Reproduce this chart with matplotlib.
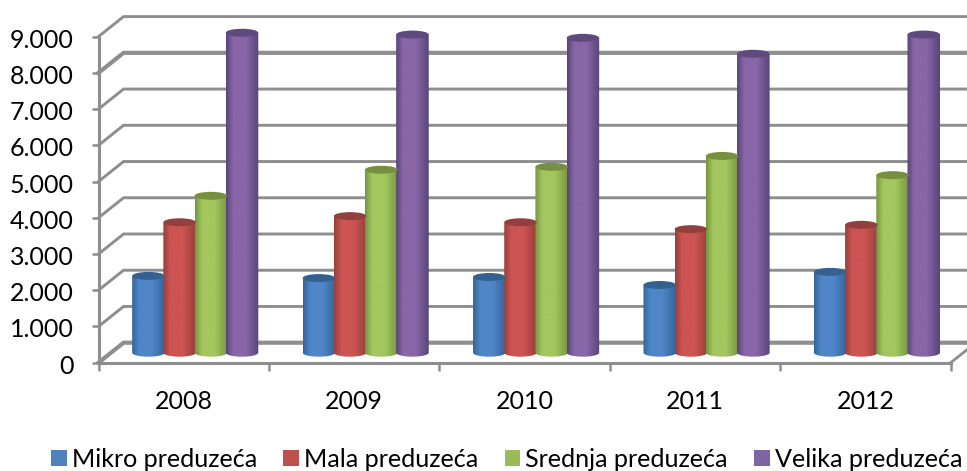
import numpy as np
import matplotlib
matplotlib.use("Agg")
import matplotlib.pyplot as plt
import matplotlib.colors as mcolors
from matplotlib.patches import Ellipse, Patch, Polygon
from matplotlib.transforms import ScaledTranslation

# ==============================
# Data
# ==============================
years = ["2008", "2009", "2010", "2011", "2012"]
mikro = [2120, 2060, 2090, 1870, 2230]
mala = [3600, 3770, 3600, 3410, 3530]
srednja = [4330, 5050, 5130, 5430, 4900]
velika = [8830, 8780, 8690, 8250, 8780]
series_names = ["Mikro preduzeća", "Mala preduzeća", "Srednja preduzeća", "Velika preduzeća"]
y_ticks = [0, 1000, 2000, 3000, 4000, 5000, 6000, 7000, 8000, 9000]
y_labels = ["0", "1.000", "2.000", "3.000", "4.000", "5.000", "6.000", "7.000", "8.000", "9.000"]

# ==============================
# Style
# ==============================
series = [mikro, mala, srednja, velika]
legend_colors = ["#4F81BD", "#C0504D", "#9BBB59", "#8064A2"]
edge_colors = ["#34659A", "#97403E", "#76983F", "#5A4577"]
mid_colors = ["#4F86C8", "#CC5452", "#A4C65E", "#8866A8"]
top_colors = ["#34618F", "#92403E", "#76903F", "#5F4A7E"]
grid_color = "#8E8E8E"

# depth of the 3D box in data units
depth_x = 0.147
depth_y = 552
bar_width = 0.191
bar_step = 0.183
ellipse_h = 220

plt.rcParams["font.family"] = ["Lato", "DejaVu Sans"]
fig = plt.figure(figsize=(9.67, 4.71), dpi=100)
ax = fig.add_axes([98.5 / 967, (471 - 362.7) / 471, 852.2 / 967, 326.1 / 471])
ax.patch.set_visible(False)


# ==============================
# Cylinder with a horizontal gradient
# ==============================
def draw_cylinder(center, value, k):
    base = depth_y / 2
    top = base + value
    left = center - bar_width / 2
    right = center + bar_width / 2

    cmap = mcolors.LinearSegmentedColormap.from_list(
        "cyl", [edge_colors[k], mid_colors[k], mid_colors[k], edge_colors[k]]
    )
    grad = cmap(np.interp(np.linspace(0, 1, 64), [0, 0.22, 0.6, 1], [0, 0.34, 0.66, 1]))[None, :, :3]
    im = ax.imshow(grad, extent=(left, right, base - ellipse_h / 2, top), aspect="auto",
                   interpolation="bilinear", zorder=3)

    # outline: straight sides and a rounded bottom
    theta = np.linspace(np.pi, 2 * np.pi, 40)
    xs = center + np.cos(theta) * bar_width / 2
    ys = base + np.sin(theta) * ellipse_h / 2
    outline = np.column_stack([np.r_[left, xs, right], np.r_[top, ys, top]])
    clip = Polygon(outline, transform=ax.transData)
    im.set_clip_path(clip)
    im.set_clip_box(fig.bbox)

    ax.add_patch(Ellipse((center, top), bar_width, ellipse_h, facecolor=top_colors[k],
                         edgecolor="none", zorder=4, clip_on=False))


# ==============================
# Box, gridlines and bars
# ==============================
n = len(years)
for v in y_ticks:
    lw = 3.0 if v in (0, 8000) else 2.1
    ax.plot([0, depth_x, n + depth_x], [v, v + depth_y, v + depth_y], color=grid_color,
            lw=lw, clip_on=False, zorder=1, solid_joinstyle="miter")

# floor edge on the right
ax.plot([n, n + depth_x], [0, depth_y], color=grid_color, lw=2.0, clip_on=False, zorder=1)

for i in range(n):
    center = i + 0.5 + depth_x / 2 - 0.006
    for k, values in enumerate(series):
        draw_cylinder(center + (k - 1.5) * bar_step, values[i], k)

ax.set_xlim(0, n)
ax.set_ylim(0, 9000)

# ==============================
# Axes
# ==============================
for side in ["top", "right"]:
    ax.spines[side].set_visible(False)
for side in ["left", "bottom"]:
    ax.spines[side].set_color(grid_color)
    ax.spines[side].set_linewidth(2.2)

ax.set_yticks(y_ticks)
ax.set_yticklabels(y_labels)
ax.set_xticks(range(n + 1))
ax.set_xticklabels([])
ax.set_xticks([i + 0.5 for i in range(n)], minor=True)
ax.set_xticklabels(years, minor=True)
ax.tick_params(axis="y", length=5, width=1.8, color=grid_color, pad=13, labelsize=18, labelcolor="black")
ax.tick_params(axis="x", which="major", length=6, width=1.8, color=grid_color)
ax.tick_params(axis="x", which="minor", length=0, pad=20, labelsize=18, labelcolor="black")

# y labels sit a little lower than the ticks
shift = ScaledTranslation(0, -1.5 / 100, fig.dpi_scale_trans)
for label in ax.get_yticklabels():
    label.set_transform(label.get_transform() + shift)

# ==============================
# Legend
# ==============================
handles = [Patch(facecolor=c, edgecolor="none", label=name) for c, name in zip(legend_colors, series_names)]
fig.legend(handles=handles, loc="lower left", bbox_to_anchor=(51 / 967, 0.0), bbox_transform=fig.transFigure,
           ncol=4, frameon=False, fontsize=18.1, handlelength=0.63, handleheight=0.63,
           handletextpad=0.2, columnspacing=1.04, borderpad=0, borderaxespad=0)

fig.savefig("out.png", dpi=100)
